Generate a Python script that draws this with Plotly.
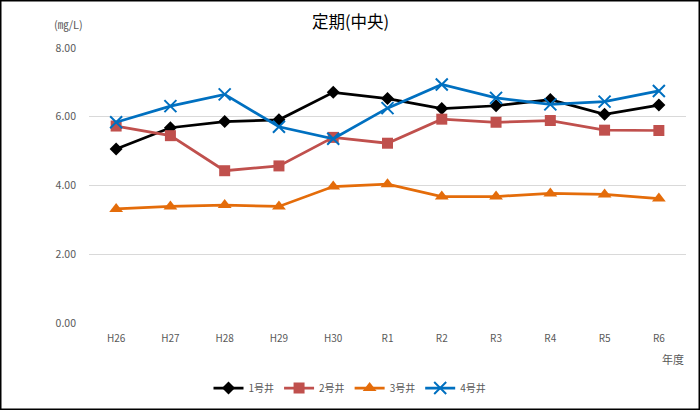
import plotly.graph_objects as go

categories = ["H26", "H27", "H28", "H29", "H30", "R1", "R2", "R3", "R4", "R5", "R6"]
well1 = [5.06, 5.68, 5.86, 5.91, 6.71, 6.53, 6.24, 6.32, 6.50, 6.07, 6.34]
well2 = [5.73, 5.45, 4.43, 4.57, 5.40, 5.23, 5.93, 5.84, 5.89, 5.61, 5.60]
well3 = [3.32, 3.39, 3.43, 3.39, 3.97, 4.04, 3.68, 3.68, 3.77, 3.74, 3.62]
well4 = [5.84, 6.31, 6.65, 5.71, 5.36, 6.25, 6.94, 6.55, 6.36, 6.44, 6.75]
names = ["1号井", "2号井", "3号井", "4号井"]
yticks = [0, 2, 4, 6, 8]
ytick_labels = ["0.00", "2.00", "4.00", "6.00", "8.00"]

W, H = 700, 410
ML, MR, MT, MB = 89, 14, 48, 87
PW, PH = W - ML - MR, H - MT - MB

def px_x(p):
    return (p - ML) / PW

def px_y(p):
    return (H - MB - p) / PH

FONT = "Noto Sans CJK JP"

fig = go.Figure()
styles = [
    dict(color="#000000", symbol="diamond", size=10, lw=0),
    dict(color="#C0504D", symbol="square", size=11, lw=0),
    dict(color="#E46C0A", symbol="triangle-up", size=12, lw=0),
    dict(color="#0070C0", symbol="x-thin-open", size=12, lw=2),
]
for name, vals, st in zip(names, [well1, well2, well3, well4], styles):
    marker = dict(symbol=st["symbol"], size=st["size"], color=st["color"])
    if st["lw"]:
        marker["line"] = dict(color=st["color"], width=st["lw"])
    fig.add_trace(go.Scatter(
        x=categories, y=vals, name=name, mode="lines+markers",
        line=dict(color=st["color"], width=2.75),
        marker=marker,
    ))

fig.update_layout(
    width=W, height=H,
    margin=dict(l=ML, r=MR, t=MT, b=MB, autoexpand=False),
    paper_bgcolor="white", plot_bgcolor="white",
    font=dict(family=FONT, color="#595959", size=10),
    showlegend=True,
    legend=dict(orientation="h", x=px_x(350), xanchor="center",
                y=px_y(388), yanchor="middle",
                font=dict(size=10, color="#595959", family=FONT),
                itemwidth=30, tracegroupgap=0,
                bgcolor="rgba(0,0,0,0)"),
    xaxis=dict(type="category", range=[-0.5, 10.5], showgrid=False,
               showline=False, ticks="", tickfont=dict(size=10, color="#595959"),
               ticklabelstandoff=8),
    yaxis=dict(range=[0, 8], tickvals=yticks, ticktext=ytick_labels,
               showgrid=True, gridcolor="#D9D9D9", gridwidth=1,
               zeroline=False, showline=False, ticks="",
               tickfont=dict(size=10.5, color="#595959"),
               ticklabelstandoff=12),
    annotations=[
        dict(text="定期(中央)", x=px_x(350), y=px_y(21), xref="paper", yref="paper",
             showarrow=False, xanchor="center", yanchor="middle",
             font=dict(size=16.5, color="#000000", family=FONT)),
        dict(text="(㎎/L)", x=px_x(68), y=px_y(24), xref="paper", yref="paper",
             showarrow=False, xanchor="center", yanchor="middle",
             font=dict(size=11, color="#595959", family=FONT)),
        dict(text="年度", x=px_x(686), y=px_y(359), xref="paper", yref="paper",
             showarrow=False, xanchor="right", yanchor="middle",
             font=dict(size=11, color="#595959", family=FONT)),
    ],
    shapes=[
        dict(type="rect", xref="paper", yref="paper",
             x0=px_x(0.75), x1=px_x(699.25), y0=px_y(409.25), y1=px_y(0.75),
             line=dict(color="#000000", width=1.5), fillcolor="rgba(0,0,0,0)", layer="above"),
    ],
)

fig.write_html("out.html", config={"displayModeBar": False},
               post_script="document.body.style.margin='0';document.body.style.overflow='hidden';")
